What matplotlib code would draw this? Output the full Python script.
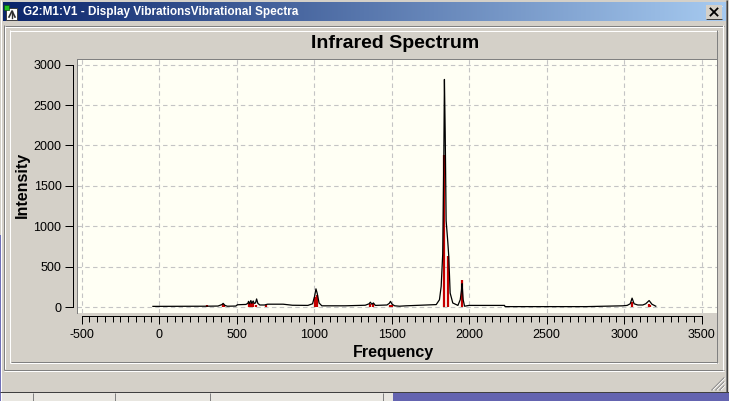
import numpy as np
import matplotlib
matplotlib.use('Agg')
import matplotlib.pyplot as plt
from matplotlib.colors import LinearSegmentedColormap

# ---------------- data ----------------
curve_freq = [-40, 300, 380, 405, 413, 425, 440, 495, 505, 560, 572, 577, 583, 592, 598,
              607, 613, 622, 629, 637, 650, 680, 700, 800, 860, 960, 990, 1003, 1012, 1020,
              1032, 1050, 1200, 1330, 1355, 1363, 1372, 1383, 1395, 1470, 1485, 1493, 1503,
              1520, 1551, 1594, 1723, 1788, 1809, 1820, 1830, 1837, 1841, 1846, 1852, 1863,
              1869, 1878, 1895, 1928, 1943, 1951, 1955, 1962, 1971, 2000, 2229, 2232, 2757,
              2992, 3020, 3040, 3052, 3065, 3089, 3121, 3140, 3162, 3180, 3205]
curve_intensity = [8, 10, 12, 30, 45, 20, 10, 12, 28, 32, 45, 70, 40, 80, 45,
                   75, 45, 50, 100, 45, 25, 25, 35, 35, 22, 20, 40, 130, 225, 170,
                   50, 15, 15, 22, 40, 60, 35, 50, 20, 25, 45, 70, 35,
                   15, 10, 15, 25, 30, 90, 255, 656, 1825, 2817, 2164, 1069, 800,
                   627, 173, 50, 20, 90, 206, 289, 90, 10, 20, 20, 5, 5,
                   15, 20, 40, 110, 40, 25, 25, 40, 80, 35, 10]

stick_freq = [306, 413, 420, 577, 590, 605, 625, 689, 1005, 1020, 1360, 1378,
              1490, 1500, 1840, 1865, 1953, 3052, 3160, 3168]
stick_intensity = [25, 40, 25, 45, 50, 50, 30, 25, 120, 150, 40, 35,
                   25, 20, 1887, 636, 330, 65, 40, 30]

x_ticks = [-500, 0, 500, 1000, 1500, 2000, 2500, 3000, 3500]
x_labels = ['-500', '0', '500', '1000', '1500', '2000', '2500', '3000', '3500']
y_ticks = [0, 500, 1000, 1500, 2000, 2500, 3000]
y_labels = ['0', '500', '1000', '1500', '2000', '2500', '3000']

window_title = 'G2:M1:V1 - Display VibrationsVibrational Spectra'
chart_title = 'Infrared Spectrum'
x_title = 'Frequency'
y_title = 'Intensity'

# ---------------- figure / window chrome ----------------
W, H = 729, 401
plt.rcParams['font.family'] = ['Liberation Sans', 'DejaVu Sans']
fig = plt.figure(figsize=(W / 100, H / 100), dpi=100)
face = '#d4d0c8'
fig.patch.set_facecolor(face)

bg = fig.add_axes([0, 0, 1, 1])
bg.set_xlim(0, W)
bg.set_ylim(H, 0)
bg.axis('off')
PT = 0.72


def hl(y, x0, x1, c, lw=1):
    bg.plot([x0, x1], [y + 0.5, y + 0.5], color=c, lw=lw * PT, solid_capstyle='butt')


def vl(x, y0, y1, c, lw=1):
    bg.plot([x + 0.5, x + 0.5], [y0, y1], color=c, lw=lw * PT, solid_capstyle='butt')


# outer window border
hl(0, 0, W, face)
vl(1, 0, H, 'white')
vl(726, 0, 392, '#808080')
vl(727, 0, 392, '#404040')

# title bar gradient
cmap = LinearSegmentedColormap.from_list('tb', ['#0a246a', '#a6caf0'])
bg.imshow(np.linspace(0, 1, 256)[None, :], cmap=cmap, extent=[3, 726, 21, 2],
          aspect='auto', interpolation='bilinear', zorder=1)
bg.text(23, 12, window_title, color='white', fontsize=8.5, fontweight='bold',
        ha='left', va='center', zorder=3)

# icon
bg.add_patch(plt.Rectangle((6.5, 7.5), 11, 12, facecolor='white', edgecolor='#404040',
                           lw=0.7, zorder=3))
bg.plot([9, 12, 15], [17, 11, 17], color='#303030', lw=1.2, zorder=4)
bg.plot([12, 12], [11, 18], color='#303030', lw=1.0, zorder=4)
bg.add_patch(plt.Rectangle((4, 5), 5, 5, facecolor='#20c020', edgecolor='#105010',
                           lw=0.5, zorder=5))

# close button
bg.add_patch(plt.Rectangle((706, 5), 16, 14, facecolor=face, edgecolor='none', zorder=3))
hl(5, 706, 722, 'white'); vl(706, 5, 19, 'white')
hl(18, 706, 722, '#404040'); vl(721, 5, 19, '#404040')
bg.plot([710.5, 717.5], [8.5, 15.5], color='black', lw=1.3, zorder=5)
bg.plot([710.5, 717.5], [15.5, 8.5], color='black', lw=1.3, zorder=5)

# panel frames
hl(25, 4, 724, '#808080'); vl(4, 25, 370, '#808080')
hl(26, 5, 723, 'white'); vl(5, 26, 369, 'white')
hl(369, 4, 724, '#808080'); vl(723, 25, 370, 'white')
hl(370, 4, 724, 'white')
hl(30, 10, 718, 'white'); vl(10, 30, 363, 'white')
hl(362, 10, 718, 'white'); vl(717, 30, 363, '#808080')
hl(361, 11, 717, '#808080')

# resize grip
for k in (4, 8, 12):
    bg.plot([724 - k, 724], [390, 390 - k], color='#808080', lw=0.9)
    bg.plot([725 - k, 725], [390, 390 - k], color='white', lw=0.6)

# bottom strip (other windows)
hl(391, 0, W, '#404040')
bg.add_patch(plt.Rectangle((0, 392), W, 9, facecolor='#e8e6e0', edgecolor='none'))
for xs in (33, 115, 210, 383):
    vl(xs, 393, 401, '#808080')
bg.add_patch(plt.Rectangle((393, 392), W - 393, 9, facecolor='#6464b0', edgecolor='none'))
bg.add_patch(plt.Rectangle((0, 235), 1.5, 166, facecolor='#7070b8', edgecolor='none'))

# ---------------- the chart ----------------
L, T, R, B = 77, 59, 717, 313
ax = fig.add_axes([L / W, 1 - B / H, (R - L) / W, (B - T) / H])
ax.set_facecolor('#fffff4')
ax.set_xlim(-530, 3600)
ax.set_ylim(-74, 3070)

ax.vlines(stick_freq, 0, stick_intensity, color='#c40000', lw=1.6, zorder=2)
ax.plot(curve_freq, curve_intensity, color='black', lw=0.9, zorder=3)

ax.set_xticks(x_ticks)
ax.set_xticklabels(x_labels)
ax.set_xticks(np.arange(-500, 3501, 50), minor=True)
ax.set_yticks(y_ticks)
ax.set_yticklabels(y_labels)
ax.grid(True, which='major', linestyle=(0, (4, 3)), color='#c4c4c4', lw=0.8)
ax.set_axisbelow(True)

for s in ('top', 'right'):
    ax.spines[s].set_visible(False)
ax.spines['left'].set_position(('outward', 4 * PT))
ax.spines['bottom'].set_position(('outward', 3 * PT))
ax.spines['left'].set_bounds(0, 3000)
ax.spines['bottom'].set_bounds(-500, 3500)
for s in ('left', 'bottom'):
    ax.spines[s].set_linewidth(PT)
    ax.spines[s].set_color('black')

ax.tick_params(axis='x', which='major', length=8 * PT, width=PT, pad=3.5, labelsize=9)
ax.tick_params(axis='x', which='minor', length=5.5 * PT, width=PT)
ax.tick_params(axis='y', which='major', length=8 * PT, width=PT, pad=2.5, labelsize=9)

# plot area border (left/top dark)
ax.plot([0, 0], [0, 1], transform=ax.transAxes, color='#808080', lw=PT, clip_on=False, zorder=5)
ax.plot([0, 1], [1, 1], transform=ax.transAxes, color='#808080', lw=PT, clip_on=False, zorder=5)

fig.text(395 / W, 1 - 44 / H, chart_title, fontsize=14, fontweight='bold',
         ha='center', va='center')
fig.text(393 / W, 1 - 353 / H, x_title, fontsize=11.5, fontweight='bold',
         ha='center', va='center')
fig.text(22 / W, 1 - 185 / H, y_title, fontsize=11.5, fontweight='bold',
         ha='center', va='center', rotation=90)

fig.savefig('out.png', dpi=100, facecolor=fig.get_facecolor())
